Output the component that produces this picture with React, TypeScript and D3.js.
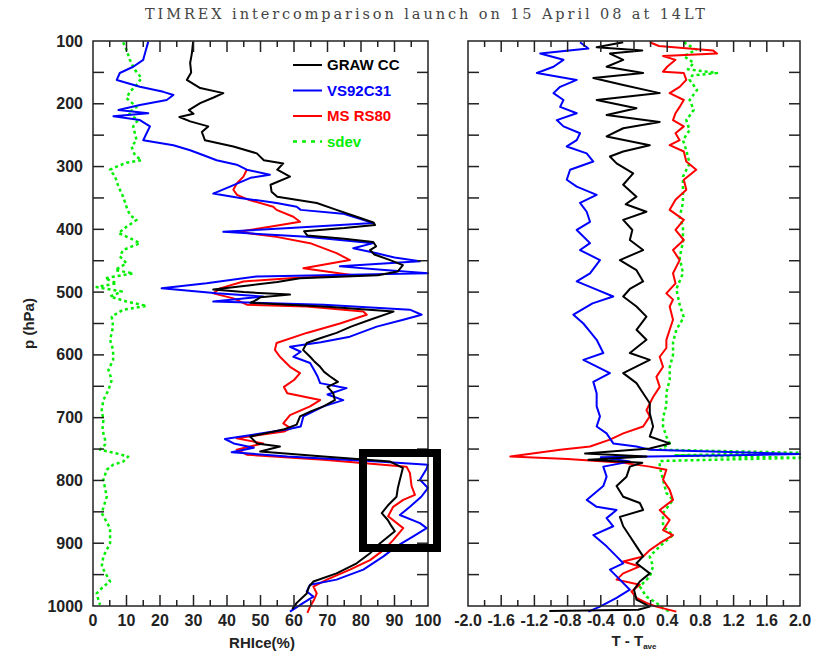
import React from "react";
import * as d3 from "d3";

// ---------- data (pressure hPa, value) ----------
const grawRH: [number, number][] = [[101,29.9],[120,29.5],[135,29],[150,29.3],[162,28],[175,32],[183,38.9],[190,36],[199,32],[210,28.6],[216,30],[221,25.8],[228,29],[236,34.4],[245,32.5],[258,33.4],[268,41.9],[279,48.9],[290,51],[295,56.8],[305,55],[316,58.8],[329,53],[340,53.3],[348,55],[358,66.8],[369,72.7],[380,78.7],[389,83.7],[393,84.2],[398,75],[403,63],[410,64],[415,75],[420,83.6],[427,84.5],[433,82.7],[440,84],[449,88.7],[457,92.5],[467,91],[473,85],[478,61.8],[484,55],[489,47],[496,35.9],[500,45],[504,58.8],[508,50],[512,48.9],[517,47],[523,68.8],[531,89.7],[544,82.7],[555,77],[565,72.7],[573,68],[581,63.8],[592,62.7],[603,64.8],[610,66],[619,67.8],[627,69],[634,70.7],[643,73.1],[651,70],[661,71.7],[672,72.2],[682,68.8],[690,65],[698,61.8],[711,60.8],[719,56.8],[730,46.9],[741,48.9],[746,55.8],[754,49.9],[762,68.8],[770,88.7],[780,92.5],[799,91.6],[812,91],[826,90.6],[840,88],[852,86.2],[863,88],[872,89],[881,90.1],[890,88],[900,85.7],[916,82.7],[932,78.7],[948,72.7],[961,65.8],[969,64.5],[980,63.8],[995,60.8],[1005,59.5]];

const vsRH: [number, number][] = [[101,16.5],[120,15.5],[130,15],[141,12],[151,8],[162,7.1],[173,14],[181,21],[186,24],[194,22],[202,14],[210,7.6],[215,16.5],[220,6.1],[226,14],[236,17],[247,16],[258,15],[266,24],[274,29],[282,33],[290,36.9],[297,42.9],[305,45.9],[313,52.8],[318,47],[332,40.9],[343,35.9],[350,43.9],[358,54.8],[364,60.8],[369,62],[375,74.6],[380,77.7],[390,83.7],[398,58.8],[404,38.9],[412,63.8],[422,83.7],[430,77.7],[438,84.7],[445,90],[451,97.6],[459,73.7],[465,88],[470,100],[475,48.9],[486,33.9],[494,20.5],[502,36.9],[507,50.8],[515,35.9],[520,68.8],[528,94.6],[536,98.1],[544,92.6],[555,84.7],[571,76.7],[580,68],[587,58.8],[595,62],[603,59.8],[613,64.8],[624,66],[634,67],[645,67.8],[653,75.7],[663,70],[672,74.7],[682,68.8],[698,62.8],[714,62],[719,57.8],[734,39.4],[741,42],[748,48],[755,41.4],[762,58],[770,85],[775,100],[782,99.5],[799,97.6],[812,100],[826,98],[842,94.6],[855,91.6],[868,97.6],[876,99.6],[889,95.6],[905,90.6],[921,86.7],[942,80.7],[958,72.7],[966,64.8],[977,63.8],[985,65.8],[995,62.8],[1009,58.8]];

const msRH: [number, number][] = [[305,45.9],[316,44.9],[327,42.9],[337,41.9],[345,43],[353,46.5],[364,53.8],[369,54.8],[380,59.8],[388,61.8],[396,52.8],[404,43.4],[412,54.8],[422,64.8],[438,72.7],[449,76.7],[462,62.8],[473,77.7],[478,58.8],[483,44.9],[494,37.9],[502,35.9],[510,41.9],[520,45.9],[523,63.8],[531,80.7],[536,81.7],[550,73.7],[565,63.8],[581,54.8],[592,54.3],[603,55.8],[619,58.8],[629,61.8],[640,60],[651,57],[661,58],[672,67.8],[682,64.8],[696,58.8],[709,56.8],[717,59],[722,57],[733,42.9],[741,50.8],[751,42.9],[759,45.9],[767,68.8],[778,93.6],[788,94.6],[809,95.1],[823,96.1],[831,92.6],[842,89.6],[857,88.1],[876,92.6],[895,89.6],[911,86.7],[927,82.7],[942,76.7],[958,69.8],[969,65.8],[980,66.8],[990,66],[1001,64.8],[1011,64]];

const sdevRH: [number, number][] = [[102,9],[114,10],[130,11],[146,12.5],[159,14.5],[170,13],[181,11],[191,10],[205,13],[215,10.5],[226,13.4],[236,12],[247,12.5],[258,13],[268,11.5],[282,12.5],[290,14.5],[294,10],[300,7.1],[305,5.1],[316,6.6],[332,7.6],[348,9],[364,10],[377,11],[385,13],[396,10],[406,7.6],[414,11],[422,14],[433,9],[443,8],[454,10],[465,6.6],[470,12],[478,3.6],[486,7.1],[492,1.1],[499,8.6],[507,5.1],[515,10],[522,16],[528,9],[539,5.6],[555,6],[576,5.1],[592,6],[608,6],[624,4.6],[640,5.6],[656,4.6],[672,3.1],[688,2.6],[704,3.1],[719,2.8],[735,3.6],[743,3.6],[751,2.1],[757,7.1],[762,10.5],[770,9],[775,6],[783,4.1],[799,3.1],[826,4.1],[852,2.6],[876,5.1],[900,5.1],[921,3.1],[937,2.6],[961,5.1],[969,3.1],[980,1.1],[990,1.6],[998,2.1]];

const grawT: [number, number][] = [[102,-0.13],[110,-0.45],[115,0.1],[120,-0.29],[130,-0.13],[141,-0.33],[151,0.11],[159,-0.49],[170,-0.13],[183,0.31],[194,-0.45],[207,0.03],[218,-0.33],[229,0.31],[239,-0.13],[252,-0.33],[266,0.19],[276,-0.13],[284,-0.29],[295,-0.21],[311,-0.01],[329,-0.13],[348,0.03],[360,-0.1],[372,0.15],[385,-0.13],[401,-0.02],[417,-0.05],[433,0.11],[449,-0.17],[465,0.03],[483,0.11],[495,-0.05],[507,-0.13],[523,0.03],[539,0.15],[560,0.03],[576,0.15],[597,-0.05],[608,0.19],[629,-0.13],[645,0.03],[661,0.11],[677,0.19],[693,0.19],[714,0.23],[730,0.19],[741,0.43],[749,0.19],[757,-0.59],[762,0.15],[767,-0.55],[772,0.1],[778,-0.05],[794,-0.09],[809,-0.21],[826,-0.13],[836,0.07],[847,0.11],[858,-0.17],[873,-0.13],[889,-0.05],[905,0.03],[921,0.11],[932,0.03],[948,0.19],[961,0.07],[974,0.0],[990,0.03],[1001,0.19],[1006,0.05],[1008,-1.02]];

const vsT: [number, number][] = [[102,-0.65],[112,-0.55],[120,-1.13],[130,-0.85],[141,-0.97],[151,-1.17],[162,-0.69],[173,-0.89],[183,-0.97],[194,-0.85],[205,-0.89],[215,-0.69],[226,-0.93],[236,-0.85],[247,-0.65],[258,-0.69],[268,-0.81],[279,-0.57],[292,-0.49],[305,-0.77],[321,-0.81],[332,-0.69],[345,-0.45],[358,-0.65],[372,-0.57],[388,-0.53],[401,-0.69],[422,-0.53],[433,-0.65],[449,-0.41],[470,-0.53],[483,-0.69],[496,-0.45],[507,-0.25],[518,-0.5],[536,-0.73],[550,-0.61],[563,-0.53],[576,-0.45],[597,-0.37],[608,-0.61],[629,-0.29],[643,-0.49],[661,-0.45],[682,-0.45],[698,-0.41],[714,-0.45],[725,-0.33],[741,-0.25],[746,0.03],[751,0.19],[758,2.0],[763,-0.4],[770,-0.05],[778,-0.37],[794,-0.33],[809,-0.37],[831,-0.57],[842,-0.45],[847,-0.21],[860,-0.33],[873,-0.25],[887,-0.49],[905,-0.33],[921,-0.21],[932,-0.13],[942,-0.29],[958,-0.17],[974,-0.05],[987,-0.21],[1001,-0.41],[1009,-0.55]];

const msT: [number, number][] = [[102,0.19],[108,0.3],[115,0.95],[120,1.0],[124,0.35],[130,0.5],[141,0.4],[149,0.35],[151,0.6],[162,0.63],[173,0.55],[183,0.43],[194,0.6],[205,0.55],[215,0.5],[226,0.47],[236,0.6],[247,0.5],[258,0.55],[266,0.43],[276,0.6],[292,0.63],[305,0.75],[321,0.6],[337,0.63],[353,0.5],[369,0.43],[385,0.6],[401,0.5],[417,0.6],[433,0.47],[449,0.55],[470,0.47],[486,0.5],[502,0.39],[512,0.47],[523,0.43],[544,0.47],[560,0.43],[576,0.39],[589,0.39],[603,0.31],[619,0.35],[635,0.27],[651,0.31],[667,0.23],[688,0.15],[698,0.19],[714,0.11],[725,-0.13],[735,-0.29],[746,-0.53],[751,-0.89],[762,-1.49],[766,-0.8],[772,-0.13],[778,0.19],[783,0.39],[799,0.35],[815,0.43],[831,0.47],[847,0.31],[863,0.43],[879,0.35],[887,0.47],[900,0.31],[911,0.19],[921,0.11],[929,-0.13],[937,0.07],[948,-0.13],[958,-0.21],[966,0.07],[977,-0.03],[987,0.03],[995,0.15],[1001,0.27],[1009,0.51]];

const sdevT: [number, number][] = [[102,0.6],[110,0.7],[114,0.75],[124,0.6],[135,0.72],[145,0.65],[151,1.0],[155,0.7],[162,0.67],[178,0.76],[194,0.67],[210,0.72],[226,0.63],[242,0.67],[258,0.59],[274,0.63],[295,0.67],[316,0.59],[337,0.59],[358,0.59],[380,0.55],[396,0.59],[420,0.59],[445,0.55],[470,0.59],[495,0.51],[520,0.55],[540,0.6],[560,0.51],[580,0.47],[600,0.47],[620,0.43],[640,0.43],[660,0.39],[680,0.39],[700,0.35],[714,0.35],[730,0.39],[741,0.43],[751,0.31],[756,2.0],[760,0.5],[764,2.0],[769,0.31],[778,0.31],[799,0.35],[820,0.39],[831,0.47],[852,0.35],[873,0.35],[887,0.47],[905,0.31],[921,0.19],[937,0.23],[953,0.19],[969,0.07],[985,0.15],[995,0.27],[1004,0.35],[1009,0.43]];

const pressureTicks = [100, 200, 300, 400, 500, 600, 700, 800, 900, 1000];
const rhTickLabels = [0, 10, 20, 30, 40, 50, 60, 70, 80, 90, 100];
const tTickLabels = [-2.0, -1.6, -1.2, -0.8, -0.4, 0.0, 0.4, 0.8, 1.2, 1.6, 2.0];
const legendNames = ["GRAW CC", "VS92C31", "MS RS80", "sdev"];
const seriesColors = ["#000000", "#0000ff", "#ff0000", "#00ee00"];
const title = "TIMREX intercomparison launch on 15 April 08 at 14LT";

const FONT = "'Liberation Sans', Arial, sans-serif";

export default function App() {
  const y = d3.scaleLinear().domain([100, 1000]).range([41, 606]);
  const xL = d3.scaleLinear().domain([0, 100]).range([93, 428]);
  const xR = d3.scaleLinear().domain([-2, 2]).range([468, 800]);

  const lineL = d3.line<[number, number]>().x((d) => xL(d[1])).y((d) => y(d[0]));
  const lineR = d3.line<[number, number]>().x((d) => xR(d[1])).y((d) => y(d[0]));

  const minorP = d3.range(150, 1000, 50);
  const rhMinor = d3.range(5, 100, 5);
  const tMinor = d3.range(-1.8, 2.0, 0.2).map((v) => Math.round(v * 10) / 10);

  const frame = (x0: number, x1: number) => (
    <rect x={x0} y={y(100)} width={x1 - x0} height={y(1000) - y(100)} fill="none" stroke="#222" strokeWidth={1.5} />
  );

  const yTicks = (x0: number, x1: number, key: string) =>
    minorP.map((p) => (
      <g key={key + p}>
        <line x1={x0} x2={x0 + 11} y1={y(p)} y2={y(p)} stroke="#222" strokeWidth={1.5} />
        <line x1={x1} x2={x1 - 11} y1={y(p)} y2={y(p)} stroke="#222" strokeWidth={1.5} />
      </g>
    ));

  const series = [
    { l: grawRH, r: grawT, c: seriesColors[0], dash: undefined as string | undefined },
    { l: vsRH, r: vsT, c: seriesColors[1], dash: undefined },
    { l: msRH, r: msT, c: seriesColors[2], dash: undefined },
    { l: sdevRH, r: sdevT, c: seriesColors[3], dash: "3,3" },
  ];
  const drawOrder = [3, 2, 1, 0];

  return (
    <svg width={814} height={652} style={{ display: "block", position: "absolute", left: 0, top: 0, background: "#fff" }}>
      <text x={425} y={19} textAnchor="middle" fontFamily="'DejaVu Serif', serif" fontSize={14.5} fill="#444" textLength={560} lengthAdjust="spacing">
        {title}
      </text>

      {drawOrder.map((i) => (
        <path key={"l" + i} d={lineL(series[i].l) || ""} fill="none" stroke={series[i].c} strokeWidth={i === 3 ? 2.5 : 2} strokeDasharray={series[i].dash} strokeLinejoin="round" />
      ))}
      {drawOrder.map((i) => (
        <path key={"r" + i} d={lineR(series[i].r) || ""} fill="none" stroke={series[i].c} strokeWidth={i === 3 ? 2.5 : 2} strokeDasharray={series[i].dash} strokeLinejoin="round" />
      ))}

      {frame(93, 428)}
      {frame(468, 800)}
      {yTicks(93, 428, "L")}
      {yTicks(468, 800, "R")}

      {rhMinor.map((v) => {
        const len = v % 10 === 0 ? 11 : 6;
        return (
          <g key={"rt" + v}>
            <line x1={xL(v)} x2={xL(v)} y1={y(1000)} y2={y(1000) - len} stroke="#222" strokeWidth={1.5} />
            <line x1={xL(v)} x2={xL(v)} y1={y(100)} y2={y(100) + len} stroke="#222" strokeWidth={1.5} />
          </g>
        );
      })}
      {tMinor.map((v) => {
        const major = Math.abs(Math.round(v * 10) % 4) === 0;
        const len = major ? 11 : 6;
        return (
          <g key={"tt" + v}>
            <line x1={xR(v)} x2={xR(v)} y1={y(1000)} y2={y(1000) - len} stroke="#222" strokeWidth={1.5} />
            <line x1={xR(v)} x2={xR(v)} y1={y(100)} y2={y(100) + len} stroke="#222" strokeWidth={1.5} />
          </g>
        );
      })}

      {pressureTicks.map((p) => (
        <text key={"pl" + p} x={83} y={y(p)} dy="0.35em" textAnchor="end" fontFamily={FONT} fontWeight="bold" fontSize={16} fill="#222">
          {p}
        </text>
      ))}
      {rhTickLabels.map((v) => (
        <text key={"xl" + v} x={xL(v)} y={626} textAnchor="middle" fontFamily={FONT} fontWeight="bold" fontSize={16} fill="#222">
          {v}
        </text>
      ))}
      {tTickLabels.map((v) => (
        <text key={"xr" + v} x={xR(v)} y={626} textAnchor="middle" fontFamily={FONT} fontWeight="bold" fontSize={16} fill="#222">
          {v.toFixed(1)}
        </text>
      ))}

      <text transform={`translate(34,${y(550)}) rotate(-90)`} textAnchor="middle" fontFamily={FONT} fontWeight="bold" fontSize={15} fill="#222">
        p (hPa)
      </text>
      <text x={262} y={648} textAnchor="middle" fontFamily={FONT} fontWeight="bold" fontSize={15} fill="#222">
        RHIce(%)
      </text>
      <text x={634} y={646} textAnchor="middle" fontFamily={FONT} fontWeight="bold" fontSize={15} fill="#222">
        T - T<tspan fontSize={8} dy={3}>ave</tspan>
      </text>

      {legendNames.map((n, i) => (
        <g key={"lg" + n}>
          <line x1={293} x2={322} y1={65 + i * 25.5} y2={65 + i * 25.5} stroke={seriesColors[i]} strokeWidth={i === 3 ? 2.5 : 2} strokeDasharray={i === 3 ? "4,5" : undefined} />
          <text x={327} y={65 + i * 25.5} dy="0.36em" fontFamily={FONT} fontWeight="bold" fontSize={15} fill={seriesColors[i]}>
            {n}
          </text>
        </g>
      ))}

      <rect x={363} y={453} width={74} height={95} fill="none" stroke="#000" strokeWidth={8} />
    </svg>
  );
}
